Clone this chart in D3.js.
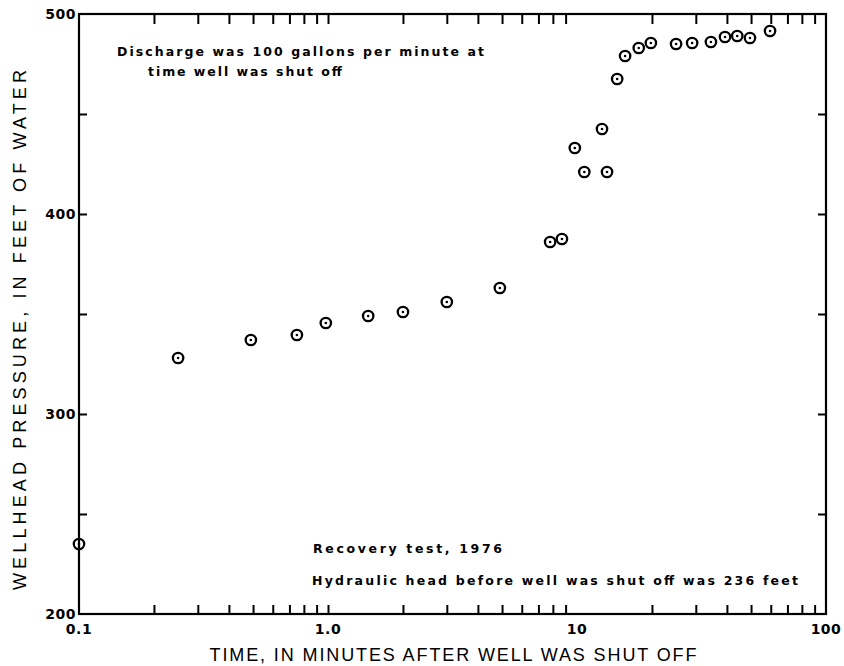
<!DOCTYPE html>
<html>
<head>
  <meta content="text/html;charset=utf-8" http-equiv="Content-Type">
  <title>Wellhead pressure recovery test</title>
  <style type="text/css">
    body { margin: 0; background: #fff; }
    #chart text { fill: #000; font-family: "Liberation Sans", Arial, sans-serif; }
    #chart text.note { font-family: "DejaVu Sans", sans-serif; font-size: 12.5px; font-weight: bold; }
    #chart text.ticklab { font-family: "DejaVu Sans", sans-serif; font-size: 14px; font-weight: bold; letter-spacing: 0.5px; }
    #chart text.title { font-size: 18px; }
    #chart .tick line { stroke: #000; stroke-width: 2; }
  </style>
  <script src="https://cdnjs.cloudflare.com/ajax/libs/d3/7.6.1/d3.min.js"></script>
  <script>

    // time after shut-off, minutes
    var timeMin = [0.1, 0.25, 0.49, 0.75, 0.98, 1.45, 2, 3, 4.9, 7.8, 8.7, 9.8, 10.7,
                   12.6, 13.2, 14.5, 15.6, 17.7, 19.8, 25, 29, 34.5, 39.3, 44, 49.5, 59.6];
    // wellhead pressure, feet of water
    var pressureFt = [235, 328, 337, 339.5, 345.5, 349, 351, 356, 363, 386, 387.5, 433,
                      421, 442.5, 421, 467.5, 479, 483, 485.5, 485, 485.5, 486, 488.5, 489, 488, 491.5];

    var xLabelValues = [0.1, 1, 10, 100];
    var xLabels = ["0.1", "1.0", "10", "100"];
    var yLabelValues = [200, 300, 400, 500];
    var yTickValues = [250, 300, 350, 400, 450];

    function main() {

      var svg = d3.select('#chart').attr('width', 844).attr('height', 666);

      var x = d3.scaleLog().domain([0.1, 100]).range([79, 826]);
      var y = d3.scaleLinear().domain([200, 500]).range([614, 14]);

      // minor ticks 2..9 in every decade, plus the 1.0 mark
      var xTicks = x.ticks().filter(function(d) {
        return d > 0.1 && d < 100 && d !== 10;
      });

      svg.append('g').attr('transform', 'translate(0,' + y(200) + ')').
        call(d3.axisBottom(x).tickValues(xTicks).tickSize(-9).tickSizeOuter(0).tickFormat(''));
      svg.append('g').attr('transform', 'translate(0,' + y(500) + ')').
        call(d3.axisTop(x).tickValues(xTicks).tickSize(-10).tickSizeOuter(0).tickFormat(''));
      svg.append('g').attr('transform', 'translate(' + x(0.1) + ',0)').
        call(d3.axisLeft(y).tickValues(yTickValues).tickSize(-8).tickSizeOuter(0).tickFormat(''));
      svg.append('g').attr('transform', 'translate(' + x(100) + ',0)').
        call(d3.axisRight(y).tickValues(yTickValues).tickSize(-8).tickSizeOuter(0).tickFormat(''));
      svg.selectAll('.domain').remove();

      svg.append('rect').
        attr('x', x(0.1)).attr('y', y(500)).
        attr('width', x(100) - x(0.1)).attr('height', y(200) - y(500)).
        attr('fill', 'none').attr('stroke', '#000').attr('stroke-width', 2.2);

      svg.selectAll('text.xlab').
          data(xLabelValues).
        enter().append('text').
          attr('class', 'ticklab xlab').
          attr('x', function(d) { return x(d); }).
          attr('y', y(200) + 20).
          attr('text-anchor', 'middle').
          text(function(d, i) { return xLabels[i]; });

      svg.selectAll('text.ylab').
          data(yLabelValues).
        enter().append('text').
          attr('class', 'ticklab ylab').
          attr('x', x(0.1) - 3).
          attr('y', function(d) { return y(d); }).
          attr('dy', '.36em').
          attr('text-anchor', 'end').
          text(function(d) { return d; });

      // observations: circle with a dot
      var pts = svg.selectAll('g.pt').
          data(timeMin).
        enter().append('g').
          attr('class', 'pt').
          attr('transform', function(d, i) { return 'translate(' + x(d) + ',' + y(pressureFt[i]) + ')'; });
      pts.append('circle').attr('r', 5.2).attr('fill', 'none').attr('stroke', '#000').attr('stroke-width', 2.3);
      pts.append('circle').attr('r', 1.3).attr('fill', '#000');

      svg.append('text').attr('class', 'note').attr('x', 117).attr('y', 56).
        attr('textLength', 367).attr('lengthAdjust', 'spacing').
        text('Discharge was 100 gallons per minute at');
      svg.append('text').attr('class', 'note').attr('x', 148).attr('y', 76).
        attr('textLength', 194).attr('lengthAdjust', 'spacing').
        text('time well was shut off');
      svg.append('text').attr('class', 'note').attr('x', 313).attr('y', 553).
        attr('textLength', 189).attr('lengthAdjust', 'spacing').
        text('Recovery test, 1976');
      svg.append('text').attr('class', 'note').attr('x', 312).attr('y', 585).
        attr('textLength', 486).attr('lengthAdjust', 'spacing').
        text('Hydraulic head before well was shut off was 236 feet');

      svg.append('text').attr('class', 'title').
        attr('x', 453).attr('y', 661).attr('text-anchor', 'middle').
        attr('textLength', 487).attr('lengthAdjust', 'spacing').
        text('TIME, IN MINUTES AFTER WELL WAS SHUT OFF');
      svg.append('text').attr('class', 'title').
        attr('transform', 'translate(26,330) rotate(-90)').attr('text-anchor', 'middle').
        attr('textLength', 520).attr('lengthAdjust', 'spacing').
        text('WELLHEAD PRESSURE, IN FEET OF WATER');
    }

  </script>
</head>
<body onload='main()'>

  <svg id="chart"></svg>

</body>
</html>
